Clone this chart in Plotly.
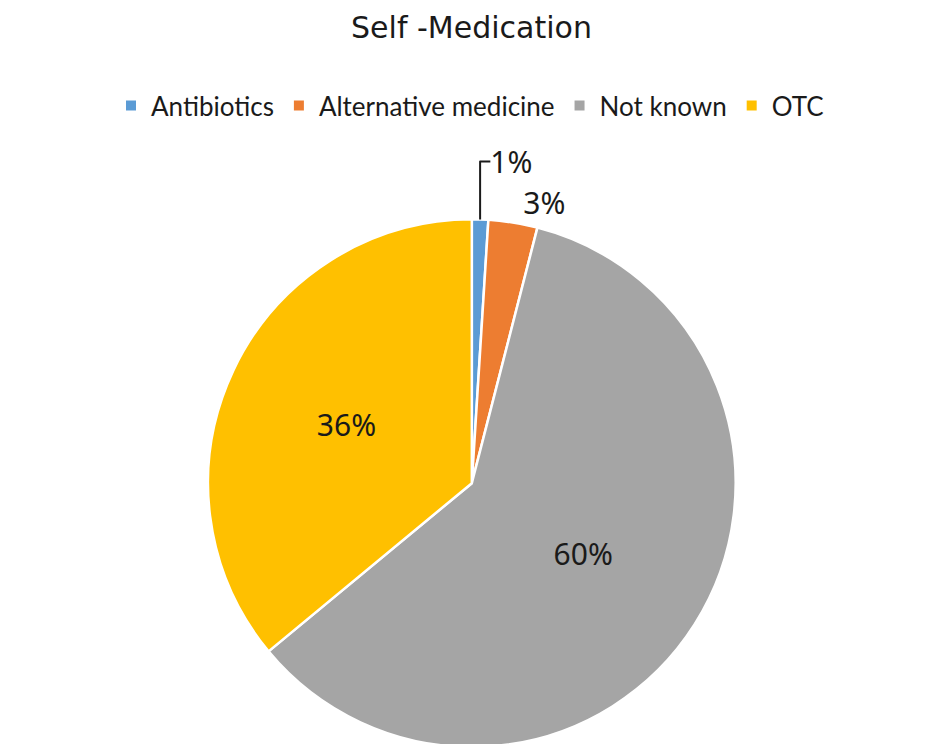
import plotly.graph_objects as go

labels = ["Antibiotics", "Alternative medicine", "Not known", "OTC"]
values = [1, 3, 60, 36]
colors = ["#5B9BD5", "#ED7D31", "#A5A5A5", "#FFC000"]
text_positions = ["outside", "outside", "inside", "inside"]

title_font = "DejaVu Sans, Noto Sans, sans-serif"
legend_font = "Lato, Noto Sans, sans-serif"
label_font = "Noto Sans, Open Sans, DejaVu Sans, sans-serif"

fig = go.Figure(
    go.Pie(
        labels=labels,
        values=values,
        sort=False,
        direction="clockwise",
        rotation=0,
        marker=dict(colors=colors, line=dict(color="white", width=2.5)),
        textinfo="percent",
        texttemplate="%{percent:.0%}",
        textposition=text_positions,
        insidetextorientation="horizontal",
        textfont=dict(family=label_font, size=30, color="#1a1a1a"),
        domain=dict(x=[0.005, 1.0], y=[0.0, 0.714]),
        showlegend=True,
    )
)

fig.update_layout(
    width=927,
    height=744,
    paper_bgcolor="white",
    plot_bgcolor="white",
    margin=dict(l=0, r=0, t=0, b=0),
    title=dict(
        text="Self -Medication",
        x=0.5,
        xanchor="center",
        y=0.974,
        yanchor="middle",
        font=dict(family=title_font, size=30, color="#1a1a1a"),
    ),
    legend=dict(
        orientation="h",
        x=0.5,
        xanchor="center",
        y=0.868,
        yanchor="middle",
        font=dict(family=legend_font, size=26, color="#1a1a1a"),
        itemsizing="constant",
        traceorder="normal",
    ),
)

fig.write_html("out.html")
